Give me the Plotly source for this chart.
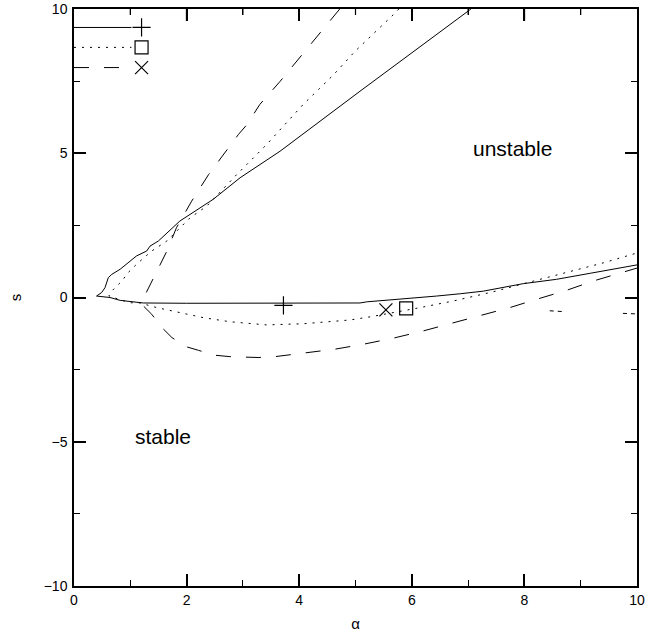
import plotly.graph_objects as go

# ---- data ----
# solid curve (+): upper branch from cusp up to top, then lower branch
solid_up_x = [0.40, 0.49, 0.55, 0.61, 0.67, 0.82, 1.11, 1.29, 1.35, 1.50, 1.88, 2.47, 2.95, 3.66, 4.72, 5.08, 7.03, 7.05]
solid_up_y = [0.05, 0.17, 0.34, 0.69, 0.80, 0.98, 1.44, 1.61, 1.78, 1.96, 2.65, 3.40, 4.15, 5.07, 6.63, 7.15, 9.97, 10.0]
solid_lo_x = [0.40, 0.64, 0.82, 1.17, 1.23, 2.00, 3.00, 4.00, 5.08, 5.20, 5.97, 6.44, 6.86, 7.27, 7.98, 8.57, 9.17, 9.96, 10.0]
solid_lo_y = [0.05, 0.00, -0.10, -0.16, -0.19, -0.20, -0.20, -0.20, -0.19, -0.15, -0.04, 0.05, 0.13, 0.22, 0.48, 0.63, 0.84, 1.12, 1.13]

# dotted curve (square)
dot_up_x = [0.62, 0.67, 0.85, 0.96, 1.11, 1.38, 1.65, 2.06, 2.36, 2.89, 3.42, 4.07, 4.61, 4.99, 5.67, 5.77]
dot_up_y = [0.05, 0.22, 0.57, 0.86, 1.15, 1.61, 1.96, 2.76, 3.17, 4.26, 5.30, 6.69, 7.72, 8.53, 9.80, 10.0]
dot_lo_x = [0.62, 0.99, 1.17, 1.47, 1.76, 2.30, 2.77, 3.42, 4.07, 4.90, 5.26, 5.79, 6.15, 6.74, 7.45, 8.16, 8.87, 9.40, 9.96, 10.0]
dot_lo_y = [0.05, -0.18, -0.19, -0.35, -0.47, -0.70, -0.84, -0.95, -0.91, -0.78, -0.67, -0.49, -0.35, -0.12, 0.20, 0.57, 0.92, 1.20, 1.52, 1.54]
dot_frag_x = [8.45, 8.70, None, 9.75, 10.0]
dot_frag_y = [-0.46, -0.49, None, -0.55, -0.57]

# dashed curve (x)
dash_up_x = [1.22, 1.24, 1.29, 1.41, 1.53, 1.65, 1.82, 2.09, 2.39, 2.65, 2.92, 3.07, 3.30, 3.66, 4.01, 4.37, 4.72]
dash_up_y = [-0.18, 0.00, 0.22, 0.69, 1.15, 1.61, 2.42, 3.34, 4.26, 4.96, 5.65, 5.99, 6.69, 7.49, 8.30, 9.16, 10.0]
dash_lo_x = [1.22, 1.23, 1.38, 1.56, 1.74, 2.00, 2.21, 2.50, 2.77, 3.04, 3.27, 3.57, 4.07, 4.64, 5.14, 5.67, 6.20, 6.74, 7.21, 7.74, 8.22, 8.75, 9.22, 9.76, 9.96, 10.0]
dash_lo_y = [-0.18, -0.29, -0.58, -1.04, -1.39, -1.71, -1.83, -2.00, -2.05, -2.08, -2.08, -2.05, -1.94, -1.79, -1.62, -1.41, -1.16, -0.87, -0.64, -0.35, -0.06, 0.25, 0.57, 0.90, 1.00, 1.02]

# marked points
plus_pt = (3.72, -0.27)
square_pt = (5.90, -0.38)
cross_pt = (5.54, -0.43)

# legend key rows (data coordinates)
key_line_x = [0.0, 1.02]
key_marker_x = 1.20
key_y = [9.36, 8.67, 7.97]

# region labels
region_text = ["unstable", "stable"]
region_x = [7.78, 1.58]
region_y = [5.17, -4.83]

# tick values (x axis)
x_major_ticks = [2, 4, 6, 8]
x_minor_ticks = [1, 3, 5, 7, 9]

FONT = "Liberation Sans, Arial, Helvetica, sans-serif"
DOT = "2px,6px"
DASH = "15px,15px"
W, H = 648, 639
ML, MR, MT, MB = 74, 11, 9, 53
PLOT_H = H - MT - MB

def rev(a):
    return list(reversed(a))

fig = go.Figure()
line_common = dict(color="black", width=1)

# solid
fig.add_trace(go.Scatter(x=rev(solid_up_x) + solid_lo_x[1:], y=rev(solid_up_y) + solid_lo_y[1:],
                         mode="lines", line=dict(**line_common), showlegend=False, hoverinfo="skip"))
# dotted
fig.add_trace(go.Scatter(x=rev(dot_up_x) + dot_lo_x[1:], y=rev(dot_up_y) + dot_lo_y[1:],
                         mode="lines", line=dict(**line_common, dash=DOT), showlegend=False, hoverinfo="skip"))
fig.add_trace(go.Scatter(x=dot_frag_x, y=dot_frag_y, mode="lines",
                         line=dict(**line_common, dash="4px,4px"), showlegend=False, hoverinfo="skip"))
# dashed
fig.add_trace(go.Scatter(x=rev(dash_up_x) + dash_lo_x[1:], y=rev(dash_up_y) + dash_lo_y[1:],
                         mode="lines", line=dict(**line_common, dash=DASH), showlegend=False, hoverinfo="skip"))

# markers on curves
marker_specs = [(plus_pt, "cross-thin"), (square_pt, "square-open"), (cross_pt, "x-thin")]
for (pt, sym) in marker_specs:
    fig.add_trace(go.Scatter(x=[pt[0]], y=[pt[1]], mode="markers",
                             marker=dict(symbol=sym, size=13, color="black",
                                         line=dict(color="black", width=1.2)),
                             showlegend=False, hoverinfo="skip"))

# legend key
styles = ["solid", DOT, DASH]
syms = ["cross-thin", "square-open", "x-thin"]
for ky, st, sym in zip(key_y, styles, syms):
    fig.add_trace(go.Scatter(x=key_line_x, y=[ky, ky], mode="lines",
                             line=dict(color="black", width=1, dash=st), showlegend=False, hoverinfo="skip"))
    fig.add_trace(go.Scatter(x=[key_marker_x], y=[ky], mode="markers",
                             marker=dict(symbol=sym, size=13, color="black",
                                         line=dict(color="black", width=1.2)),
                             showlegend=False, hoverinfo="skip"))

for t, xx, yy in zip(region_text, region_x, region_y):
    fig.add_annotation(x=xx, y=yy, text=t, showarrow=False,
                       font=dict(family=FONT, size=21, color="black"))

# top-edge ticks (mirrored x ticks)
for v in x_major_ticks:
    fig.add_shape(type="line", xref="x", yref="paper", x0=v, x1=v, y0=1, y1=1 - 12 / PLOT_H,
                  line=dict(color="black", width=1.5))
for v in x_minor_ticks:
    fig.add_shape(type="line", xref="x", yref="paper", x0=v, x1=v, y0=1, y1=1 - 6 / PLOT_H,
                  line=dict(color="black", width=1.2))

axis_common = dict(showline=True, linecolor="black", linewidth=1.5, mirror="allticks",
                   ticks="inside", ticklen=12, tickwidth=1.5, tickcolor="black",
                   showgrid=False, zeroline=False, ticklabeloverflow="allow",
                   tickfont=dict(family=FONT, size=14, color="black"))

fig.update_xaxes(range=[0, 10], dtick=2, tick0=0,
                 minor=dict(ticks="inside", ticklen=6, dtick=1, tickcolor="black", tickwidth=1.2),
                 title=dict(text="α", font=dict(family=FONT, size=15, color="black"), standoff=12),
                 **axis_common)
fig.update_yaxes(range=[-10, 10], dtick=5, tick0=0,
                 minor=dict(ticks="inside", ticklen=6, dtick=2.5, tickcolor="black", tickwidth=1.2),
                 title=dict(text="s", font=dict(family=FONT, size=15, color="black"), standoff=18),
                 ticklabelstandoff=2,
                 **axis_common)

fig.update_layout(width=W, height=H, plot_bgcolor="white", paper_bgcolor="white",
                  margin=dict(l=ML, r=MR, t=MT, b=MB, autoexpand=False),
                  showlegend=False)

fig.write_html("out.html", config={"displayModeBar": False},
               post_script="document.body.style.margin='0px';")
